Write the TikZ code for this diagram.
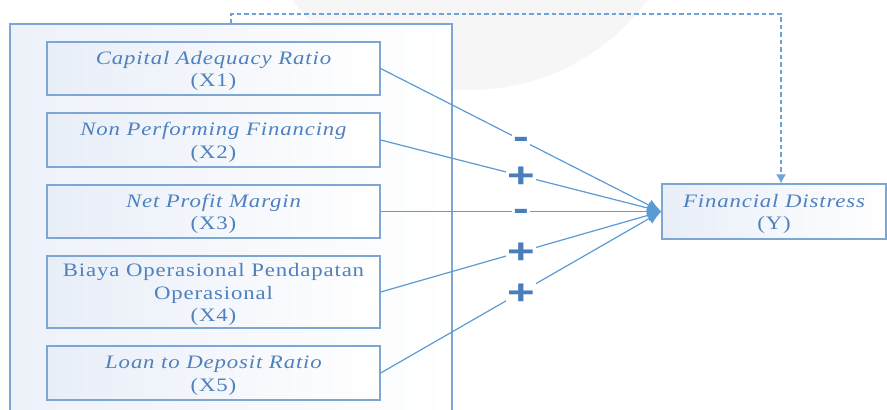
\documentclass[tikz,border=0pt]{standalone}
\usepackage{fontspec}
\setmainfont{Liberation Serif}[FakeStretch=1.2,LetterSpace=4.5]
\newfontfamily\signfont{Liberation Sans}[FakeStretch=1.35]
\usetikzlibrary{arrows.meta}
\definecolor{bord}{RGB}{126,166,211}
\definecolor{txt}{RGB}{79,129,189}
\definecolor{ln}{RGB}{91,155,213}
\definecolor{dln}{RGB}{110,162,218}
\definecolor{shd}{RGB}{232,238,248}
\definecolor{sgn}{RGB}{74,126,187}
\tikzset{
  varbox/.style={draw=bord, line width=1.3pt, left color=shd, right color=white,
    minimum width=333pt, inner sep=0pt},
  vtext/.style={align=center, inner sep=0pt, text=txt,
    font=\fontsize{19}{22.5}\selectfont, yshift=-2.5pt},
  outerbox/.style={draw=bord, line width=1.2pt, left color=shd!80, right color=white,
    minimum width=442pt, minimum height=396pt, inner sep=0pt},
  conn/.style={draw=ln, line width=1.2pt, -{Latex[length=14pt,width=12pt]}},
  dsh/.style={draw=dln, line width=1.2pt, dash pattern=on 4.5pt off 3pt, -{Latex[length=9pt,width=10pt]}},
  sign/.style={fill=white, inner xsep=1.5pt, inner ysep=0pt, text depth=0pt, text=sgn, font=\signfont\bfseries\fontsize{35}{35}\selectfont},
  plussign/.style={sign, text height=24pt},
  minussign/.style={sign, text height=17.6pt},
}
\begin{document}
\begin{tikzpicture}[x=1pt,y=-1pt]
\useasboundingbox (0,0) rectangle (887,410);
\fill[gray!7] (470,-130) circle (220pt);
\node[outerbox] (outer) at (231,222) {};
\node[varbox, minimum height=53pt, label={[vtext]center:{\itshape Capital Adequacy Ratio\\(X1)}}] (x1) at (213.5,68.5) {};
\node[varbox, minimum height=54pt, label={[vtext]center:{\itshape Non Performing Financing\\(X2)}}] (x2) at (213.5,140) {};
\node[varbox, minimum height=53pt, label={[vtext]center:{\itshape Net Profit Margin\\(X3)}}] (x3) at (213.5,211.5) {};
\node[varbox, minimum height=72pt, label={[vtext]center:{Biaya Operasional Pendapatan\\Operasional\\(X4)}}] (x4) at (213.5,292) {};
\node[varbox, minimum height=54pt, label={[vtext]center:{\itshape Loan to Deposit Ratio\\(X5)}}] (x5) at (213.5,373) {};
\node[varbox, minimum width=224pt, minimum height=55pt, label={[vtext]center:{\itshape Financial Distress\\(Y)}}] (yb) at (774,211.5) {};
\coordinate (dtop) at (781,14);
\draw[dsh] (outer.north) |- (dtop) -- (dtop |- yb.north);
\draw[conn] (x1.east) -- node[minussign]{-} (yb.west);
\draw[conn] (x2.east) -- node[plussign]{+} (yb.west);
\draw[conn] (x3.east) -- node[minussign]{-} (yb.west);
\draw[conn] (x4.east) -- node[plussign]{+} (yb.west);
\draw[conn] (x5.east) -- node[plussign]{+} (yb.west);
\end{tikzpicture}
\end{document}
